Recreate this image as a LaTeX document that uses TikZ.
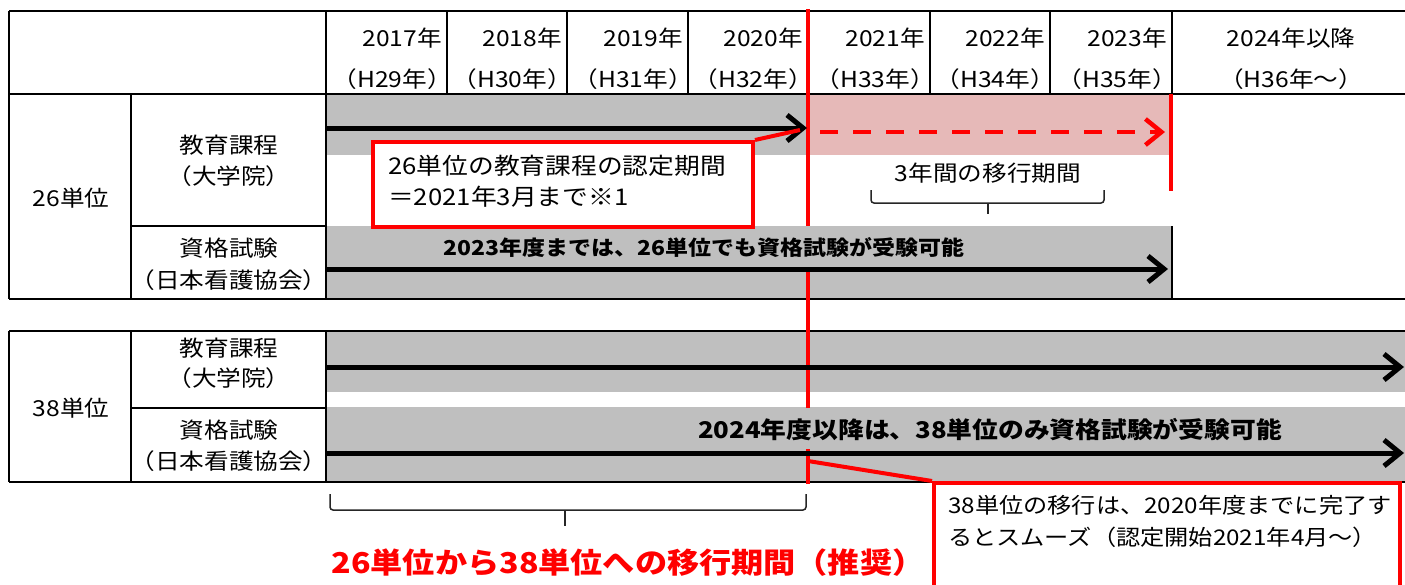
\documentclass[tikz,border=0pt]{standalone}
\usepackage{fontspec}
\setmainfont{Noto Sans CJK JP}[FakeStretch=1.12]
\usetikzlibrary{arrows.meta}
\definecolor{gr}{HTML}{BFBFBF}
\definecolor{pk}{HTML}{E6B9B8}
\definecolor{rd}{HTML}{FF0000}
\newcommand{\fs}[1]{\fontsize{#1}{#1}\selectfont}
\tikzset{
  tbl/.style={line width=2.5pt, black},
  thinl/.style={line width=1.2pt, black},
  arr/.style={line width=5pt, -{Straight Barb[length=16pt,width=26pt,line width=5pt]}},
  rdarr/.style={line width=4.5pt, rd, dash pattern=on 18pt off 15pt, -{Straight Barb[length=16pt,width=26pt,line width=4.5pt]}},
  rdline/.style={line width=4pt, rd},
  callout/.style={draw=rd, line width=4pt, fill=white, inner sep=0pt},
  hd/.style={font=\fs{22}, inner sep=0pt},
  lbl/.style={font=\fs{22}, inner sep=0pt},
  txt/.style={font=\fs{22}, inner sep=0pt},
  bld/.style={font=\bfseries\fs{20.5}, inner sep=0pt},
  brace/.style={line width=1.5pt, black!85, rounded corners=3pt},
}
\begin{document}
\begin{tikzpicture}[x=1pt,y=-1pt]
\clip (0,0) rectangle (1405,584);
\fill[white] (0,0) rectangle (1405,584);
% ---- fills
\fill[gr] (326,94) rectangle (808,155);
\fill[pk] (808,94) rectangle (1172,155);
\fill[gr] (326,226) rectangle (1172,299);
\fill[gr] (326,331) rectangle (1405,392);
\fill[gr] (326,407) rectangle (1405,482);
% ---- upper table lines
\draw[tbl] (9,11) -- (1405,11);
\draw[tbl] (9,94) -- (1405,94);
\draw[tbl] (9,299) -- (1405,299);
\draw[tbl] (9,11) -- (9,299);
\draw[tbl] (131,94) -- (131,299);
\draw[tbl] (326,11) -- (326,299);
\draw[tbl] (131,226) -- (326,226);
\foreach \x in {447,567,688,930,1050,1172} \draw[tbl] (\x,11) -- (\x,94);
\draw[thinl] (1172,226) -- (1172,299);
% ---- lower table lines
\draw[tbl] (9,331) -- (1405,331);
\draw[tbl] (9,482) -- (1405,482);
\draw[tbl] (9,331) -- (9,482);
\draw[tbl] (131,331) -- (131,482);
\draw[tbl] (326,331) -- (326,482);
\draw[tbl] (131,408) -- (326,408);
% ---- header
\foreach \y/\h/\r in {2017/29/447,2018/30/567,2019/31/688,2020/32/808,2021/33/930,2022/34/1050,2023/35/1172}{
  \node[hd, anchor=east] (y\y) at (\r-5,38) {\y 年};
  \node[hd, anchor=east] (h\y) at (\r+5,79) {（H\h 年）};
}
\node[hd] (y2024) at (1291,38) {2024年以降};
\node[hd] (h2024) at (1291,79) {（H36年～）};
% ---- row labels
\node[lbl] (u26) at (71,198) {26単位};
\node[lbl] (k1) at (229,145) {教育課程};
\node[lbl] (k1b) at (229,176) {（大学院）};
\node[lbl] (s1) at (229,248) {資格試験};
\node[lbl] (s1b) at (229,280) {（日本看護協会）};
\node[lbl] (u38) at (71,408) {38単位};
\node[lbl] (k2) at (229,348) {教育課程};
\node[lbl] (k2b) at (229,378) {（大学院）};
\node[lbl] (s2) at (229,430) {資格試験};
\node[lbl] (s2b) at (229,461) {（日本看護協会）};
% ---- bold row texts
\node[bld] (t1) at (704,248) {2023年度までは、26単位でも資格試験が受験可能};
\node[bld, font=\bfseries\fs{23}] (t2) at (990,430) {2024年度以降は、38単位のみ資格試験が受験可能};
% ---- red vertical lines
\draw[rdline] (808,9) -- (808,226);
\draw[rdline] (808,272) -- (808,408);
\draw[rdline] (808,449) -- (808,484);
\draw[rdline] (1171,94) -- (1171,191);
% ---- arrows
\coordinate (a1s) at (326,128); \coordinate (a1e) at (807,128);
\coordinate (d1s) at (820,132); \coordinate (d1e) at (1165,132);
\coordinate (a2s) at (326,269); \coordinate (a2e) at (1168,269);
\coordinate (a3s) at (326,367); \coordinate (a3e) at (1404,367);
\coordinate (a4s) at (326,453); \coordinate (a4e) at (1404,453);
\draw[arr] (a1s) -- (a1e);
\draw[rdarr] (d1s) -- (d1e);
\draw[arr] (a2s) -- (a2e);
\draw[arr] (a3s) -- (a3e);
\draw[arr] (a4s) -- (a4e);
% ---- callout 1
\node[callout, anchor=north west, minimum width=380pt, minimum height=85pt] (box1) at (371,140) {};
\coordinate (p1) at (800,130);
\draw[rdline] (box1.north east) -- (p1);
\node[txt, anchor=west, font=\fs{23}] (b1l1) at (388,166) {26単位の教育課程の認定期間};
\node[txt, anchor=west, font=\fs{23}] (b1l2) at (388,197) {＝2021年3月まで※1};
% ---- transition label and brace
\node[txt] (tr3) at (988,173) {3年間の移行期間};
\draw[brace] (871,190) -- (871,203) -- (1104,203) -- (1104,190);
\draw[brace] (988,203) -- (988,214);
% ---- callout 2
\node[callout, anchor=north west, minimum width=466pt, minimum height=140pt] (box2) at (932,481) {};
\coordinate (p2) at (808,461);
\draw[rdline] (p2) -- (box2.north west);
\node[txt, anchor=west, font=\fs{21.6}] (b2l1) at (948,505) {38単位の移行は、2020年度までに完了す};
\node[txt, anchor=west, font=\fs{21.6}] (b2l2) at (948,537) {るとスムーズ（認定開始2021年4月～）};
% ---- bottom brace and red text
\draw[brace] (330,494) -- (330,510) -- (806,510) -- (806,494);
\draw[brace] (565,510) -- (565,526);
\node[inner sep=0pt, text=rd, font=\bfseries\fs{28.7}] (rec) at (628,563) {26単位から38単位への移行期間（推奨）};
\end{tikzpicture}
\end{document}
